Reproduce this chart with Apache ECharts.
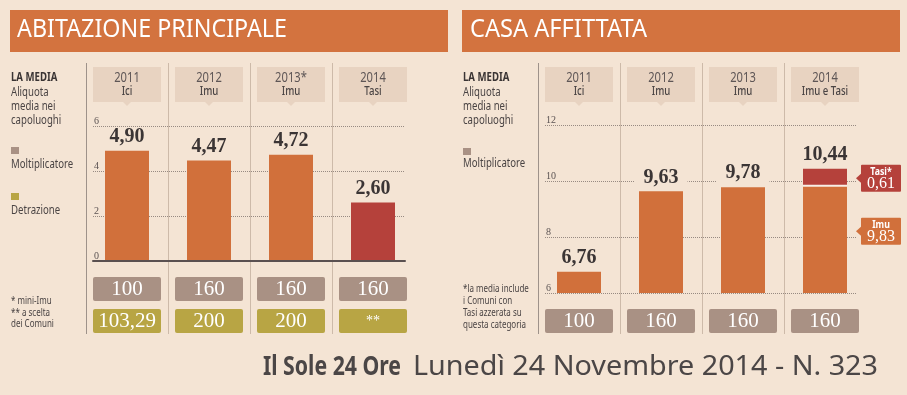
<!DOCTYPE html>
<html><head><meta charset="utf-8">
<script src="https://cdn.jsdelivr.net/npm/echarts@6/dist/echarts.min.js"></script>
<style>html,body{margin:0;padding:0;background:#F4E4D4}#c{width:907px;height:395px}</style>
</head><body><div id="c"></div>
<script>
// ---- data ----
const leftYears = ['2011', '2012', '2013*', '2014'];
const leftTaxes = ['Ici', 'Imu', 'Imu', 'Tasi'];
const leftRates = [4.90, 4.47, 4.72, 2.60];
const leftMultipliers = ['100', '160', '160', '160'];
const leftDeductions = ['103,29', '200', '200', '**'];
const leftTicks = { min: 0, max: 6, interval: 2 };

const rightYears = ['2011', '2012', '2013', '2014'];
const rightTaxes = ['Ici', 'Imu', 'Imu', 'Imu e Tasi'];
const rightImu = [6.76, 9.63, 9.78, 9.83];
const rightTasi = [null, null, null, 0.61];
const rightTotals = [6.76, 9.63, 9.78, 10.44];
const rightMultipliers = ['100', '160', '160', '160'];
const rightTicks = { min: 6, max: 12, interval: 2 };

// ---- styles ----
const BG = '#F4E4D4', TITLE = '#D3733F', ORANGE = '#D1703B', RED = '#B5413B';
const HEAD = '#E8D3C1', MULT = '#A99184', DET = '#B8A544', DARK = '#3B3535';
const SANS = '"Noto Sans", "Open Sans", sans-serif';
const SERIF = '"Liberation Serif", "DejaVu Serif", serif';
const COND = 0.8;
const fmt = v => v.toFixed(2).replace('.', ',');

const mctx = document.createElement('canvas').getContext('2d');
function fitScale(text, size, weight, w) {
  mctx.font = weight + ' ' + size + 'px ' + SANS;
  return w / mctx.measureText(text).width;
}

function sideText(x, y, text, size, weight, color) {
  return { type: 'text', x: x, y: y, scaleX: COND, silent: true,
    style: { text: text, fill: color || '#4a4444', fontSize: size, fontWeight: weight || 'normal',
      fontFamily: SANS, verticalAlign: 'middle', align: 'left' } };
}
function fitText(x, y, text, size, weight, color, w) {
  return { type: 'text', x: x, y: y, scaleX: fitScale(text, size, weight, w), silent: true,
    style: { text: text, fill: color, fontSize: size, fontWeight: weight,
      fontFamily: SANS, verticalAlign: 'middle', align: 'left' } };
}

function decoRenderer(years, taxes, rows) {
  return function (params, api) {
    const i = api.value(0);
    const c = api.coord([i, api.value(1)])[0];
    const bw = api.size([1, 0])[0];
    const sx = Math.round(c - bw / 2) + 0.5;
    const ch = [];
    ch.push({ type: 'line', shape: { x1: sx, y1: 63, x2: sx, y2: 334 },
      style: { stroke: i === 0 ? '#9E928A' : '#CDBAA9', lineWidth: 1 } });
    ch.push({ type: 'rect', shape: { x: c - 34, y: 67, width: 68, height: 35 }, style: { fill: HEAD } });
    ch.push({ type: 'polygon', shape: { points: [[c - 4, 102], [c + 4, 102], [c, 106]] }, style: { fill: HEAD } });
    ch.push({ type: 'text', x: c, y: 78, scaleX: COND,
      style: { text: years[i], fill: '#5E5656', fontSize: 14, fontFamily: SANS, align: 'center', verticalAlign: 'middle' } });
    ch.push({ type: 'text', x: c, y: 92, scaleX: COND,
      style: { text: taxes[i], fill: '#4A4444', fontSize: 12, fontWeight: 500, fontFamily: SANS, align: 'center', verticalAlign: 'middle' } });
    rows.forEach(r => {
      ch.push({ type: 'rect', shape: { x: c - 34, y: r.y, width: 68, height: 24, r: 2 }, style: { fill: r.color } });
      ch.push({ type: 'text', x: c, y: r.y + 12.5,
        style: { text: r.values[i], fill: '#FFFFFF', fontSize: r.values[i] === '**' ? 14 : 21, fontFamily: SERIF,
          align: 'center', verticalAlign: 'middle' } });
    });
    return { type: 'group', children: ch };
  };
}

function tasiRenderer(params, api) {
  const i = api.value(0);
  const c = api.coord([i, rightTotals[i]])[0];
  const top = api.coord([i, rightTotals[i]])[1];
  const base = api.coord([i, rightImu[i]])[1];
  const cy = (top + base) / 2 + 1;
  const bx = c + 36, w = 40, h = 27;
  const ch = [];
  ch.push({ type: 'line', shape: { x1: c - 22, y1: base, x2: c + 22, y2: base }, style: { stroke: '#F8EEE6', lineWidth: 2 } });
  const boxes = [
    { y: cy, color: RED, t1: 'Tasi*', t2: fmt(rightTasi[i]) },
    { y: cy + 53, color: ORANGE, t1: 'Imu', t2: fmt(rightImu[i]) }
  ];
  boxes.forEach(b => {
    ch.push({ type: 'rect', shape: { x: bx, y: b.y - h / 2, width: w, height: h, r: 1 }, style: { fill: b.color } });
    ch.push({ type: 'polygon', shape: { points: [[bx + 0.5, b.y - 5], [bx + 0.5, b.y + 5], [bx - 5, b.y]] }, style: { fill: b.color } });
    ch.push({ type: 'text', x: bx + w / 2, y: b.y - 6, scaleX: COND,
      style: { text: b.t1, fill: '#fff', fontSize: 11, fontWeight: 'bold', fontFamily: SANS, align: 'center', verticalAlign: 'middle' } });
    ch.push({ type: 'text', x: bx + w / 2, y: b.y + 6,
      style: { text: b.t2, fill: '#fff', fontSize: 16, fontFamily: SERIF, align: 'center', verticalAlign: 'middle' } });
  });
  return { type: 'group', children: ch };
}

const valueLabel = { show: true, position: 'top', distance: 4, color: DARK, fontFamily: SERIF,
  fontWeight: 'bold', fontSize: 20, formatter: p => fmt(p.value) };

function gridY(gi, t) {
  return { gridIndex: gi, type: 'value', min: t.min, max: t.max, interval: t.interval,
    axisLine: { show: false }, axisTick: { show: false },
    axisLabel: { inside: true, margin: 1, verticalAlign: 'bottom', color: '#5a5252', fontSize: 10, fontFamily: SERIF },
    splitLine: { show: true, lineStyle: { type: 'dotted', color: '#978A82', width: 1 } } };
}
function plotY(gi, t) {
  return { gridIndex: gi, type: 'value', min: t.min, max: t.max, interval: t.interval, show: false,
    splitLine: { show: false } };
}

const option = {
  animation: false,
  backgroundColor: BG,
  grid: [
    { left: 86, width: 328, top: 126, height: 135, containLabel: false, outerBoundsMode: 'none' },
    { left: 93, width: 312, top: 126, height: 135, containLabel: false, outerBoundsMode: 'none' },
    { left: 538, width: 328, top: 125, height: 168, containLabel: false, outerBoundsMode: 'none' },
    { left: 545, width: 312, top: 125, height: 168, containLabel: false, outerBoundsMode: 'none' }
  ],
  xAxis: [
    { gridIndex: 0, type: 'category', data: leftYears, show: false },
    { gridIndex: 1, type: 'value', min: 0, max: 1, z: 5,
      axisLine: { show: true, onZero: false, lineStyle: { color: '#5A5050', width: 2 } },
      axisTick: { show: false }, axisLabel: { show: false }, splitLine: { show: false } },
    { gridIndex: 2, type: 'category', data: rightYears, show: false },
    { gridIndex: 3, type: 'value', min: 0, max: 1, show: false }
  ],
  yAxis: [plotY(0, leftTicks), gridY(1, leftTicks), plotY(2, rightTicks), gridY(3, rightTicks)],
  series: [
    { type: 'custom', xAxisIndex: 0, yAxisIndex: 0, clip: false, silent: true, z: 1,
      data: leftYears.map((y, i) => [i, leftTicks.min]),
      renderItem: decoRenderer(leftYears, leftTaxes, [
        { y: 277, color: MULT, values: leftMultipliers },
        { y: 309, color: DET, values: leftDeductions }]) },
    { type: 'bar', xAxisIndex: 0, yAxisIndex: 0, barWidth: 44, z: 3,
      data: leftRates.map((v, i) => ({ value: v, itemStyle: { color: leftTaxes[i] === 'Tasi' ? RED : ORANGE } })),
      label: valueLabel },
    { type: 'custom', xAxisIndex: 2, yAxisIndex: 2, clip: false, silent: true, z: 1,
      data: rightYears.map((y, i) => [i, rightTicks.min]),
      renderItem: decoRenderer(rightYears, rightTaxes, [
        { y: 309, color: MULT, values: rightMultipliers }]) },
    { type: 'bar', xAxisIndex: 2, yAxisIndex: 2, barWidth: 44, stack: 'tot', z: 3,
      itemStyle: { color: ORANGE },
      data: rightImu.map((v, i) => ({ value: v, label: { show: rightTasi[i] == null } })),
      label: Object.assign({}, valueLabel, { backgroundColor: BG, padding: [0, 9] }) },
    { type: 'bar', xAxisIndex: 2, yAxisIndex: 2, barWidth: 44, stack: 'tot', z: 3,
      itemStyle: { color: RED },
      data: rightTasi,
      label: Object.assign({}, valueLabel, { formatter: p => fmt(rightTotals[p.dataIndex]) }) },
    { type: 'custom', xAxisIndex: 2, yAxisIndex: 2, clip: false, silent: true, z: 6,
      data: rightTasi.map((v, i) => [i, v]).filter(d => d[1] != null),
      renderItem: tasiRenderer }
  ],
  graphic: [
    { type: 'rect', silent: true, shape: { x: 10, y: 10, width: 438, height: 42 }, style: { fill: TITLE } },
    fitText(17, 30, 'ABITAZIONE PRINCIPALE', 26, 'normal', '#FFFFFF', 270),
    { type: 'rect', silent: true, shape: { x: 462, y: 10, width: 438, height: 42 }, style: { fill: TITLE } },
    fitText(470, 30, 'CASA AFFITTATA', 26, 'normal', '#FFFFFF', 177),

    sideText(11, 78, 'LA MEDIA', 12, 'bold', '#3A3434'),
    sideText(11, 93, 'Aliquota', 12),
    sideText(11, 107, 'media nei', 12),
    sideText(11, 121, 'capoluoghi', 12),
    { type: 'rect', silent: true, shape: { x: 11, y: 147, width: 8, height: 7 }, style: { fill: MULT } },
    sideText(11, 165, 'Moltiplicatore', 12),
    { type: 'rect', silent: true, shape: { x: 11, y: 193, width: 8, height: 7 }, style: { fill: DET } },
    sideText(11, 211, 'Detrazione', 12),
    sideText(11, 301, '* mini-Imu', 10),
    sideText(11, 313, '** a scelta', 10),
    sideText(11, 324, 'dei Comuni', 10),

    sideText(463, 78, 'LA MEDIA', 12, 'bold', '#3A3434'),
    sideText(463, 93, 'Aliquota', 12),
    sideText(463, 107, 'media nei', 12),
    sideText(463, 121, 'capoluoghi', 12),
    { type: 'rect', silent: true, shape: { x: 463, y: 148, width: 8, height: 7 }, style: { fill: MULT } },
    sideText(463, 164, 'Moltiplicatore', 12),
    sideText(463, 289, '*la media include', 10),
    sideText(463, 301, 'i Comuni con', 10),
    sideText(463, 313, 'Tasi azzerata su', 10),
    sideText(463, 325, 'questa categoria', 10),

    fitText(263, 367, 'Il Sole 24 Ore', 27, 'bold', '#4B4646', 138),
    fitText(413, 367, 'Lunedì 24 Novembre 2014 - N. 323', 27, 'normal', '#4B4646', 465)
  ]
};

const chart = echarts.init(document.getElementById('c'), null, { renderer: 'canvas' });
chart.setOption(option);
</script>
</body></html>
